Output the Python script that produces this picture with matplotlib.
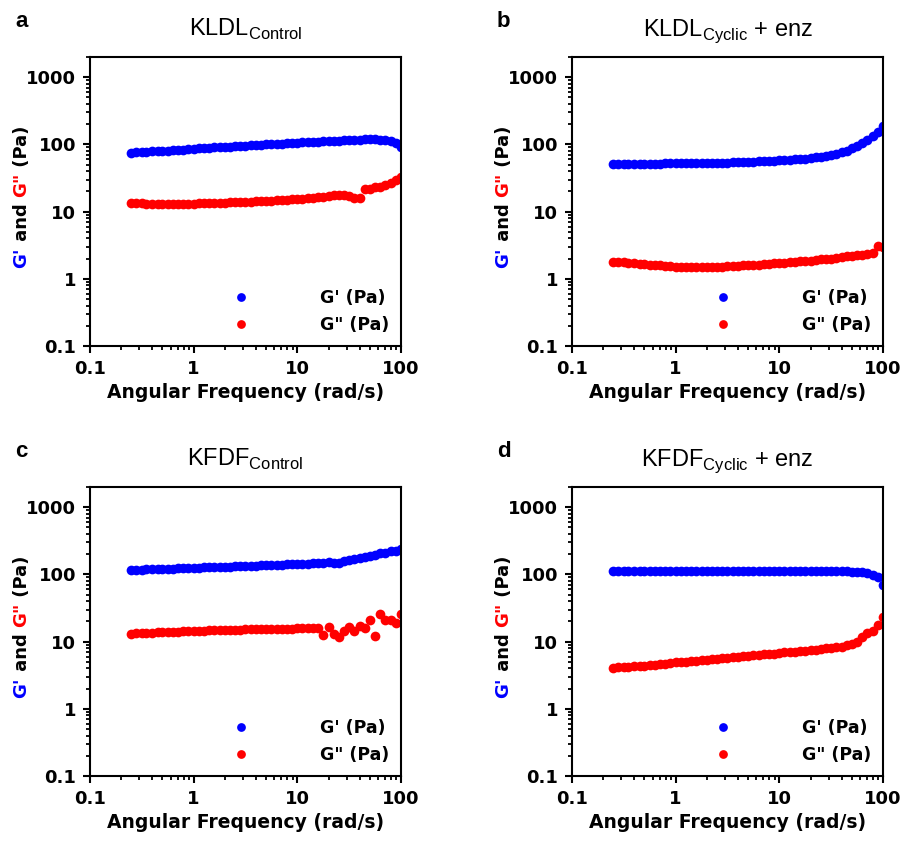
import matplotlib
matplotlib.use("Agg")
import matplotlib.pyplot as plt
from matplotlib.ticker import LogLocator, NullFormatter, FixedLocator, FixedFormatter

plt.rcParams['font.family'] = ['DejaVu Sans']
plt.rcParams['mathtext.fontset'] = 'custom'
plt.rcParams['mathtext.rm'] = 'Liberation Sans'

# angular frequency (rad/s), shared by all sweeps
freq = [0.25, 0.28, 0.32, 0.35, 0.40, 0.45, 0.50, 0.56, 0.63, 0.71, 0.79, 0.89,
        1.0, 1.12, 1.26, 1.41, 1.58, 1.78, 2.0, 2.24, 2.51, 2.82, 3.16, 3.55,
        3.98, 4.47, 5.01, 5.62, 6.31, 7.08, 7.94, 8.91, 10.0, 11.2, 12.6, 14.1,
        15.8, 17.8, 20.0, 22.4, 25.1, 28.2, 31.6, 35.5, 39.8, 44.7, 50.1, 56.2,
        63.1, 70.8, 79.4, 89.1, 100.0]

# a: KLDL control
kldl_ctrl_g1 = [75, 76, 77, 77.5, 78.5, 79.5, 80.5, 81, 82, 83, 84, 85, 86, 87,
                88, 89, 90, 91, 92, 93, 94, 95, 96, 97, 98, 99, 100, 101, 102,
                103, 104, 105, 106, 107, 108, 109, 110, 111, 112, 113, 114, 115,
                116, 117, 118, 119, 119, 119, 118, 116, 111, 104, 91]
kldl_ctrl_g2 = [13.6, 13.4, 13.3, 13.2, 13.2, 13.1, 13.1, 13.1, 13.1, 13.1, 13.2,
                13.2, 13.2, 13.3, 13.3, 13.3, 13.4, 13.5, 13.6, 13.7, 13.8, 13.9,
                14.0, 14.1, 14.2, 14.3, 14.4, 14.6, 14.7, 14.9, 15.0, 15.2, 15.4,
                15.6, 15.8, 16.0, 16.3, 16.6, 17.0, 17.4, 17.8, 17.6, 17.0, 16.2,
                15.9, 21.5, 22.0, 23.0, 23.5, 25.0, 26.5, 29.5, 33.0]

# b: KLDL cyclic + enzyme
kldl_cyc_g1 = [51.5, 51.5, 51.5, 51.5, 51.5, 51.6, 51.7, 51.8, 51.9, 52, 52.1,
               52.2, 52.3, 52.4, 52.5, 52.6, 52.7, 52.8, 53, 53.2, 53.4, 53.6,
               53.8, 54, 54.3, 54.6, 55, 55.4, 55.8, 56.2, 56.7, 57.2, 57.8,
               58.4, 59.2, 60, 60.5, 61.5, 62.5, 64, 65.5, 67, 69, 72, 76, 81,
               88, 96, 106, 118, 133, 155, 185]
kldl_cyc_g2 = [1.80, 1.78, 1.76, 1.73, 1.70, 1.68, 1.65, 1.62, 1.60, 1.58, 1.56,
               1.54, 1.52, 1.51, 1.50, 1.50, 1.49, 1.49, 1.50, 1.50, 1.51, 1.52,
               1.53, 1.55, 1.56, 1.58, 1.60, 1.61, 1.63, 1.65, 1.67, 1.69, 1.71,
               1.73, 1.76, 1.78, 1.81, 1.84, 1.87, 1.90, 1.94, 1.98, 2.0, 2.05,
               2.1, 2.15, 2.2, 2.25, 2.3, 2.35, 2.45, 3.1, 2.95]

# c: KFDF control
kfdf_ctrl_g1 = [116, 117, 118, 119, 119.5, 120, 121, 121.5, 122, 123, 123.5, 124,
                125, 126, 127, 127.5, 128.5, 129, 130, 131, 131.5, 132.5, 133,
                134, 135, 136, 137, 138, 139, 140, 141, 142, 143, 144, 145, 146,
                147, 149, 152, 150, 149, 158, 163, 168, 174, 180, 187, 194, 205,
                210, 222, 226, 240]
kfdf_ctrl_g2 = [13.2, 13.3, 13.4, 13.5, 13.6, 13.7, 13.8, 13.9, 14.0, 14.1, 14.2,
                14.3, 14.4, 14.5, 14.6, 14.7, 14.8, 14.9, 15.0, 15.0, 15.1, 15.1,
                15.2, 15.2, 15.3, 15.3, 15.4, 15.4, 15.5, 15.5, 15.6, 15.6, 15.7,
                15.7, 15.8, 15.8, 16.0, 12.5, 16.5, 13.0, 11.8, 14.5, 16.5, 14.5,
                17.0, 15.8, 21.0, 12.0, 26.0, 21.0, 21.0, 19.0, 26.0]

# d: KFDF cyclic + enzyme
kfdf_cyc_g1 = [113, 113, 113, 113, 113, 113, 113, 113, 113, 113, 113, 113, 113,
               113, 113, 113, 113, 113, 113, 113, 113, 112, 112, 112, 112, 112,
               112, 112, 112, 112, 112, 112, 112, 112, 112, 112, 112, 112, 112,
               112, 112, 112, 112, 112, 112, 111, 110, 109, 107, 104, 99, 90, 70]
kfdf_cyc_g2 = [4.1, 4.15, 4.2, 4.25, 4.3, 4.35, 4.4, 4.5, 4.55, 4.6, 4.7, 4.8,
               4.9, 5.0, 5.05, 5.15, 5.2, 5.3, 5.4, 5.5, 5.6, 5.65, 5.75, 5.85,
               5.95, 6.05, 6.15, 6.25, 6.35, 6.45, 6.55, 6.65, 6.8, 6.9, 7.0,
               7.1, 7.25, 7.35, 7.5, 7.6, 7.75, 7.9, 8.0, 8.2, 8.3, 9.0, 9.3,
               10.0, 11.6, 13.5, 14.6, 17.5, 23.0]

letters = ["a", "b", "c", "d"]
titles = [r"KLDL$_{\mathregular{Control}}$", r"KLDL$_{\mathregular{Cyclic}}$ + enz",
          r"KFDF$_{\mathregular{Control}}$", r"KFDF$_{\mathregular{Cyclic}}$ + enz"]
storage = [kldl_ctrl_g1, kldl_cyc_g1, kfdf_ctrl_g1, kfdf_cyc_g1]
loss = [kldl_ctrl_g2, kldl_cyc_g2, kfdf_ctrl_g2, kfdf_cyc_g2]

fig = plt.figure(figsize=(9.04, 8.43), dpi=100)
W, H = 904, 843
lefts = [90, 572, 90, 572]
tops = [57, 57, 487, 487]
aw, ah = 311, 289

for i in range(4):
    ax = fig.add_axes([lefts[i] / W, 1 - (tops[i] + ah) / H, aw / W, ah / H])
    ax.plot(freq, storage[i], 'o', color='blue', ms=7, mew=0, label="G' (Pa)")
    ax.plot(freq, loss[i], 'o', color='red', ms=7, mew=0, label='G" (Pa)')
    ax.set_xscale('log')
    ax.set_yscale('log')
    ax.set_xlim(0.1, 100)
    ax.set_ylim(0.1, 2000)

    ax.xaxis.set_major_locator(FixedLocator([0.1, 1, 10, 100]))
    ax.xaxis.set_major_formatter(FixedFormatter(['0.1', '1', '10', '100']))
    ax.yaxis.set_major_locator(FixedLocator([0.1, 1, 10, 100, 1000]))
    ax.yaxis.set_major_formatter(FixedFormatter(['0.1', '1', '10', '100', '1000']))
    ax.xaxis.set_minor_locator(LogLocator(base=10, subs=range(2, 10)))
    ax.yaxis.set_minor_locator(LogLocator(base=10, subs=range(2, 10)))
    ax.xaxis.set_minor_formatter(NullFormatter())
    ax.yaxis.set_minor_formatter(NullFormatter())
    ax.tick_params(which='major', direction='out', length=5, width=1.5,
                   labelsize=13, pad=5)
    ax.tick_params(which='minor', direction='out', length=3, width=1.3)
    for lab in ax.get_xticklabels() + ax.get_yticklabels():
        lab.set_fontweight('bold')
    for sp in ax.spines.values():
        sp.set_linewidth(1.5)

    ax.set_xlabel('Angular Frequency (rad/s)', fontsize=13.5, fontweight='bold',
                  labelpad=4)
    ax.set_title(titles[i], fontsize=17, family='Liberation Sans', pad=15)

    # two-colour y label, stacked bottom to top
    t = ax.text(-0.22, 0.27, "G'", transform=ax.transAxes, rotation=90,
                color='blue', ha='center', va='bottom', fontsize=13,
                fontweight='bold')
    for s, c in [(" and ", 'black'), ('G"', 'red'), (" (Pa)", 'black')]:
        t = ax.annotate(s, xy=(0.5, 1), xycoords=t, rotation=90, color=c,
                        ha='center', va='bottom', fontsize=13, fontweight='bold')

    ax.legend(loc='lower right', frameon=False, numpoints=1, markerscale=0.9,
              handlelength=1, handletextpad=4.0, labelspacing=0.5,
              borderpad=0.4, borderaxespad=0.3,
              prop={'weight': 'bold', 'size': 12.5})

    fig.text((lefts[i] - 75) / W, 1 - (tops[i] - 30) / H, letters[i],
             fontsize=16, fontweight='bold', family='Liberation Sans',
             va='baseline')

fig.savefig('out.png', dpi=100)
